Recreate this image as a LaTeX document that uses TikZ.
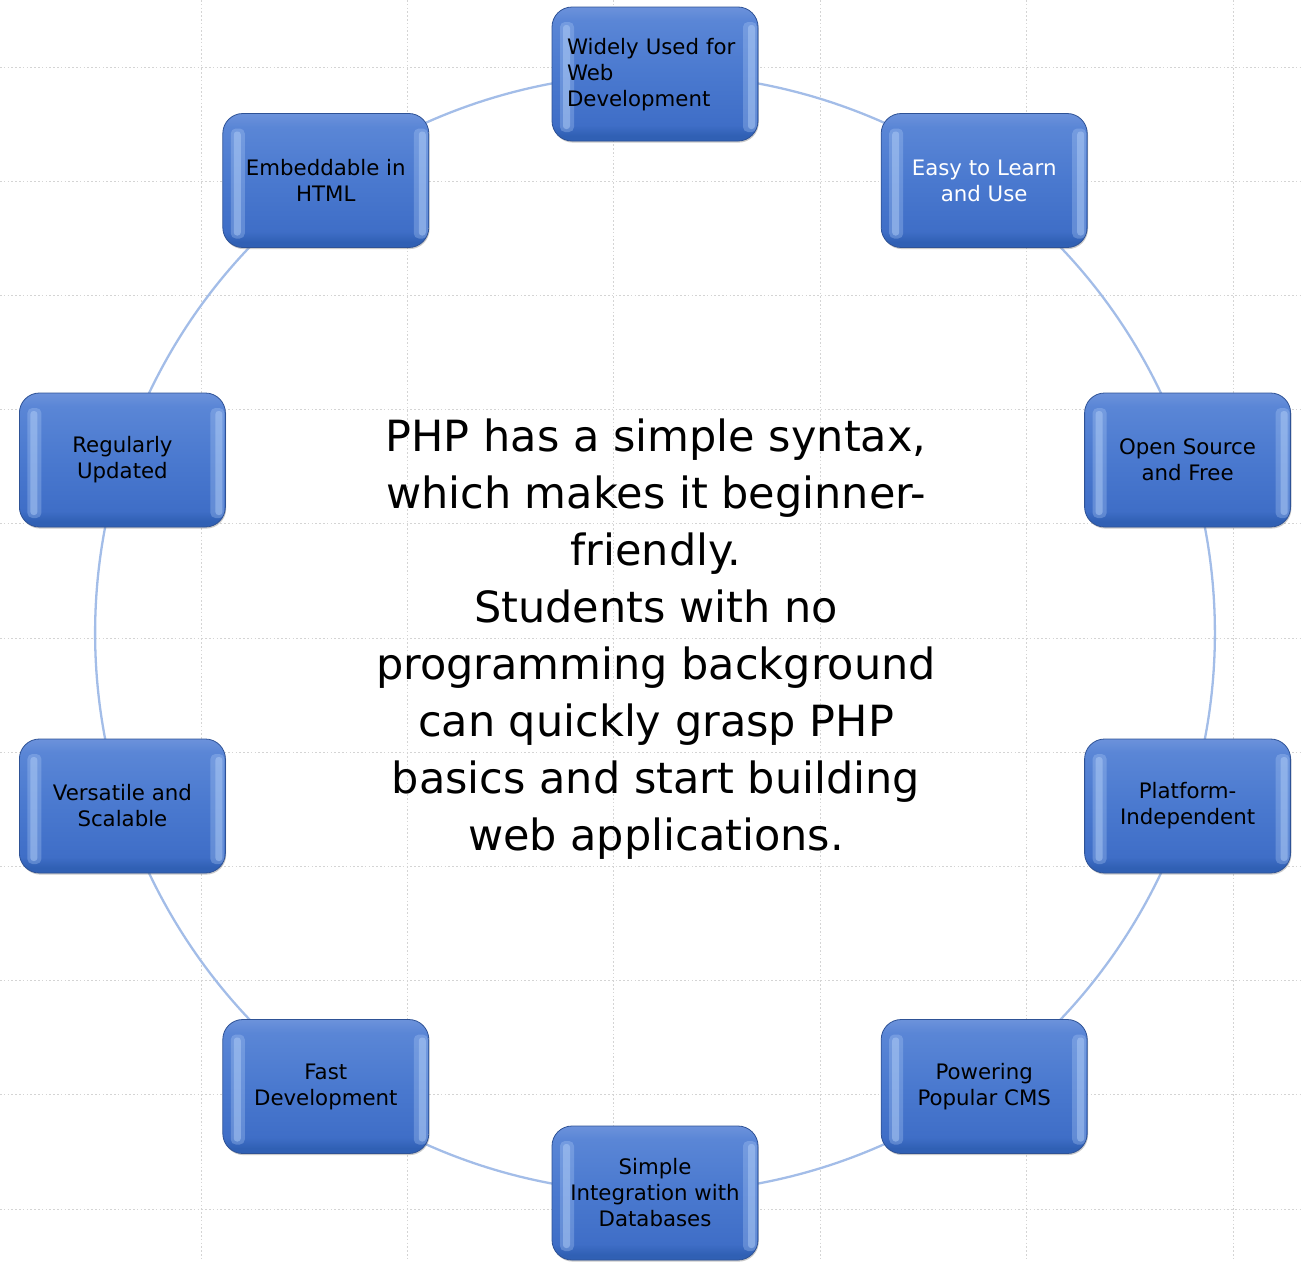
\documentclass[tikz,border=0pt]{standalone}
\usepackage{fontspec}
\setmainfont{DejaVu Sans}
\usetikzlibrary{backgrounds,shadows}
\definecolor{btop}{HTML}{6C92DB}
\definecolor{bup}{HTML}{5A86D6}
\definecolor{bmid}{HTML}{4A79CF}
\definecolor{blow}{HTML}{3F6EC7}
\definecolor{bbot}{HTML}{3060B4}
\definecolor{bedge}{HTML}{2E5296}
\definecolor{hl}{HTML}{B4D0F8}
\definecolor{ringc}{HTML}{A3BDE8}
\definecolor{gridc}{HTML}{D4D4D4}
\pgfdeclareverticalshading{boxshade}{100bp}{color(0bp)=(bbot); color(25bp)=(bbot); color(27bp)=(bbot); color(31bp)=(blow); color(50bp)=(bmid); color(70bp)=(bup); color(75bp)=(btop); color(100bp)=(btop)}
\tikzset{
  pbox/.style={rounded corners=20pt, minimum width=206pt, minimum height=134pt,
    draw=bedge, line width=0.8pt, shade, shading=boxshade,
    drop shadow={shadow xshift=0.8pt, shadow yshift=-1.6pt, opacity=0.35, fill=black!60},
    align=center, text=black, inner sep=0pt,
    font=\fontsize{21.3}{26}\selectfont,
    path picture={
      \fill[hl, opacity=0.3, rounded corners=5pt, draw=none]
        ([xshift=8pt,yshift=-15pt]path picture bounding box.north west) rectangle
        ([xshift=22pt,yshift=9pt]path picture bounding box.south west);
      \fill[hl, opacity=0.45, rounded corners=3pt, draw=none]
        ([xshift=11pt,yshift=-18pt]path picture bounding box.north west) rectangle
        ([xshift=18pt,yshift=12pt]path picture bounding box.south west);
      \fill[hl, opacity=0.3, rounded corners=5pt, draw=none]
        ([xshift=-15pt,yshift=-15pt]path picture bounding box.north east) rectangle
        ([xshift=-1pt,yshift=9pt]path picture bounding box.south east);
      \fill[hl, opacity=0.45, rounded corners=3pt, draw=none]
        ([xshift=-10pt,yshift=-18pt]path picture bounding box.north east) rectangle
        ([xshift=-3pt,yshift=12pt]path picture bounding box.south east);
    }},
  ringarc/.style={draw=ringc, line width=2.3pt},
  gridline/.style={draw=gridc, line width=1pt, dash pattern=on 1.6pt off 2.2pt},
  ctext/.style={align=center, text=black, inner sep=0pt, font=\fontsize{43}{57}\selectfont}
}
\begin{document}
\begin{tikzpicture}[x=1pt, y=-1pt]
\useasboundingbox (0,0) rectangle (1301,1261);
\node[pbox] (n1) at (655,74) {};
\node[align=left, text width=176pt, font=\fontsize{21.3}{26}\selectfont, inner sep=0pt] (t1) at (655,75) {Widely Used for\\Web\\Development};
\node[pbox, text=white] (n2) at (984.2,180.5) {Easy to Learn\\and Use};
\node[pbox] (n3) at (1187.6,460) {Open Source\\and Free};
\node[pbox] (n4) at (1187.6,806) {Platform-\\Independent};
\node[pbox] (n5) at (984.2,1086.5) {Powering\\Popular CMS};
\node[pbox] (n6) at (655,1193) {Simple\\Integration with\\Databases};
\node[pbox] (n7) at (325.8,1086.5) {Fast\\Development};
\node[pbox] (n8) at (122.4,806) {Versatile and\\Scalable};
\node[pbox] (n9) at (122.4,460) {Regularly\\Updated};
\node[pbox] (n10) at (325.8,180.5) {Embeddable in\\HTML};
\node[ctext] (ctr) at (656,639) {PHP has a simple syntax,\\which makes it beginner-\\friendly.\\Students with no\\programming background\\can quickly grasp PHP\\basics and start building\\web applications.};
\begin{scope}[on background layer]
  \foreach \k in {0,...,5} {\path[gridline] ({201+206.4*\k},0) -- ({201+206.4*\k},1261);}
  \foreach \k in {0,...,10} {\path[gridline] (0,{67+114.2*\k}) -- (1301,{67+114.2*\k});}
  \foreach \a/\b in {n1/n2,n2/n3,n3/n4,n4/n5,n5/n6,n6/n7,n7/n8,n8/n9,n9/n10,n10/n1}
    {\path[ringarc] (\a.center) to[bend left=18, looseness=0.873] (\b.center);}
\end{scope}
\end{tikzpicture}
\end{document}
